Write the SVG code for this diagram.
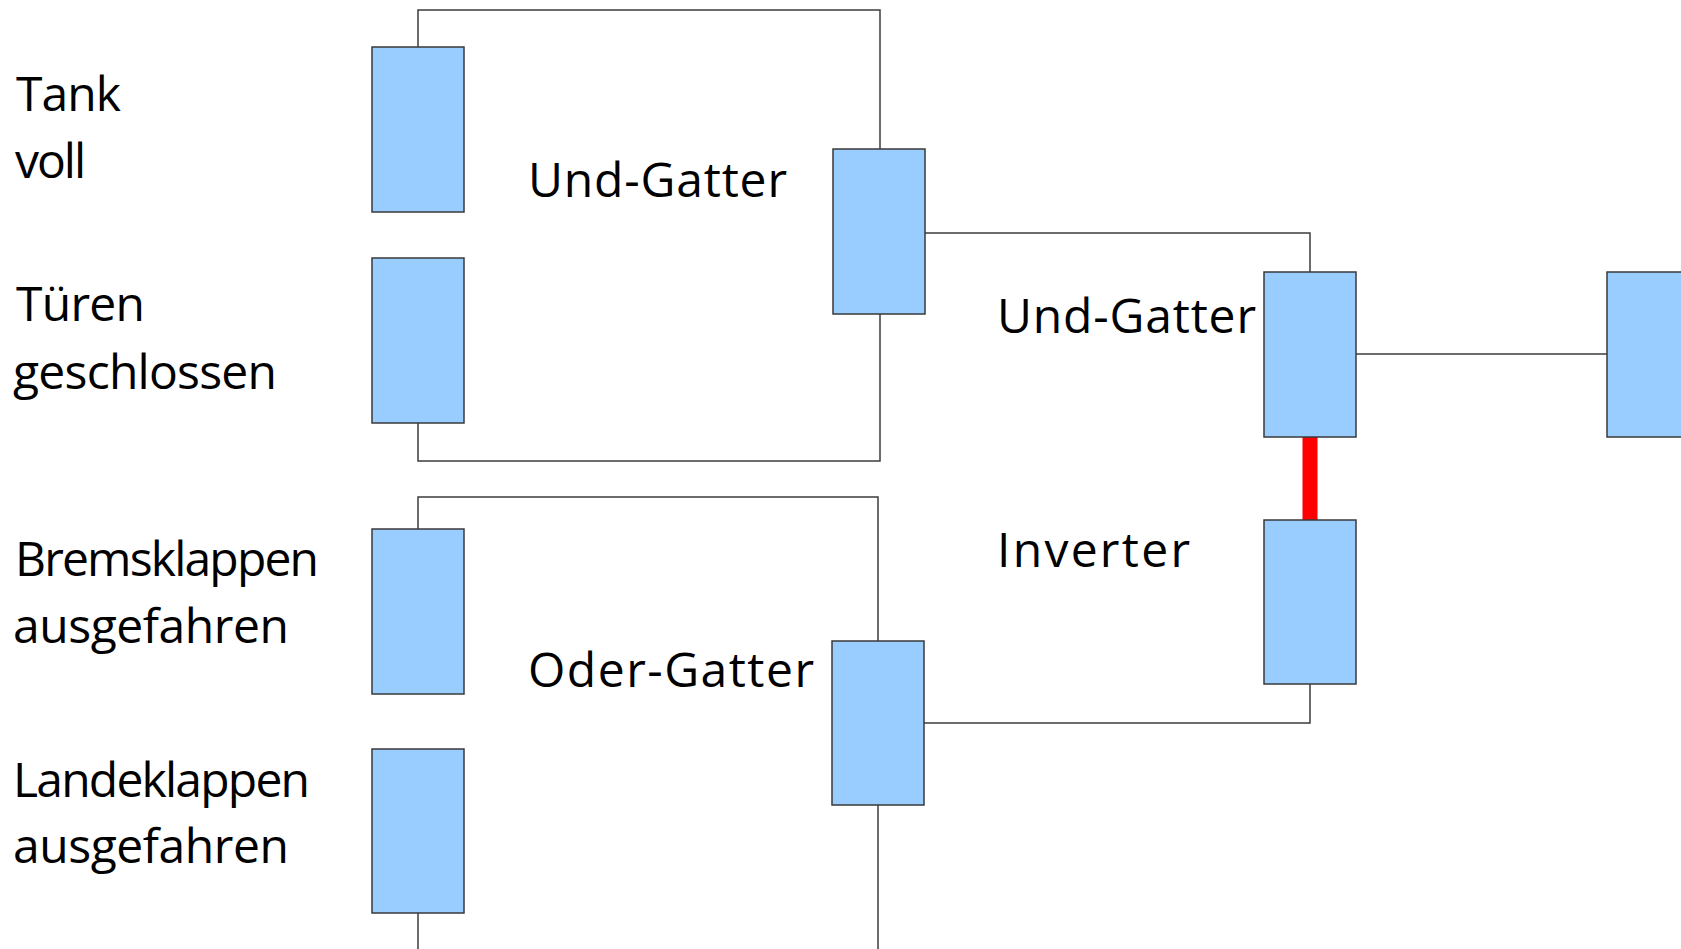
<svg xmlns="http://www.w3.org/2000/svg" width="1681" height="949" viewBox="0 0 1681 949">
<style>
.box{fill:#99ccff;stroke:#3a3a3a;stroke-width:1.5}
.wire{fill:none;stroke:#3c3c3c;stroke-width:1.5}
.red{fill:none;stroke:#ff0000;stroke-width:15}
.lbl{font-family:"Open Sans","DejaVu Sans",sans-serif;font-size:48px;fill:#000}
</style>
<rect width="1681" height="949" fill="#ffffff"/>
<g id="connectors">
<polyline class="wire" points="418,47 418,10 880,10 880,149"/>
<polyline class="wire" points="418,423 418,461 880,461 880,314"/>
<polyline class="wire" points="925,233 1310,233 1310,272"/>
<line class="wire" x1="1356" y1="354" x2="1607" y2="354"/>
<polyline class="wire" points="418,529 418,497 878,497 878,641"/>
<line class="wire" x1="418" y1="913" x2="418" y2="949"/>
<line class="wire" x1="878" y1="805" x2="878" y2="949"/>
<polyline class="wire" points="924,723 1310,723 1310,684"/>
<line class="red" x1="1310" y1="437" x2="1310" y2="520"/>
</g>
<g id="in-tank">
<rect class="box" x="372" y="47" width="92" height="165"/>
<text class="lbl" x="16" y="111" textLength="105">Tank</text>
<text class="lbl" x="15" y="178" textLength="71">voll</text>
</g>
<g id="in-tueren">
<rect class="box" x="372" y="258" width="92" height="165"/>
<text class="lbl" x="16" y="321" textLength="129">Türen</text>
<text class="lbl" x="13" y="389" textLength="264">geschlossen</text>
</g>
<g id="in-brems">
<rect class="box" x="372" y="529" width="92" height="165"/>
<text class="lbl" x="15" y="576" textLength="304">Bremsklappen</text>
<text class="lbl" x="13" y="643" textLength="276">ausgefahren</text>
</g>
<g id="in-lande">
<rect class="box" x="372" y="749" width="92" height="164"/>
<text class="lbl" x="13" y="797" textLength="297">Landeklappen</text>
<text class="lbl" x="13" y="863" textLength="276">ausgefahren</text>
</g>
<g id="und1">
<rect class="box" x="833" y="149" width="92" height="165"/>
<text class="lbl" x="528" y="197" textLength="259">Und-Gatter</text>
</g>
<g id="oder">
<rect class="box" x="832" y="641" width="92" height="164"/>
<text class="lbl" x="528" y="687" textLength="286">Oder-Gatter</text>
</g>
<g id="und2">
<rect class="box" x="1264" y="272" width="92" height="165"/>
<text class="lbl" x="997" y="333" textLength="259">Und-Gatter</text>
</g>
<g id="inverter">
<rect class="box" x="1264" y="520" width="92" height="164"/>
<text class="lbl" x="997" y="567" textLength="193">Inverter</text>
</g>
<g id="output">
<rect class="box" x="1607" y="272" width="90" height="165"/>
</g>
</svg>
